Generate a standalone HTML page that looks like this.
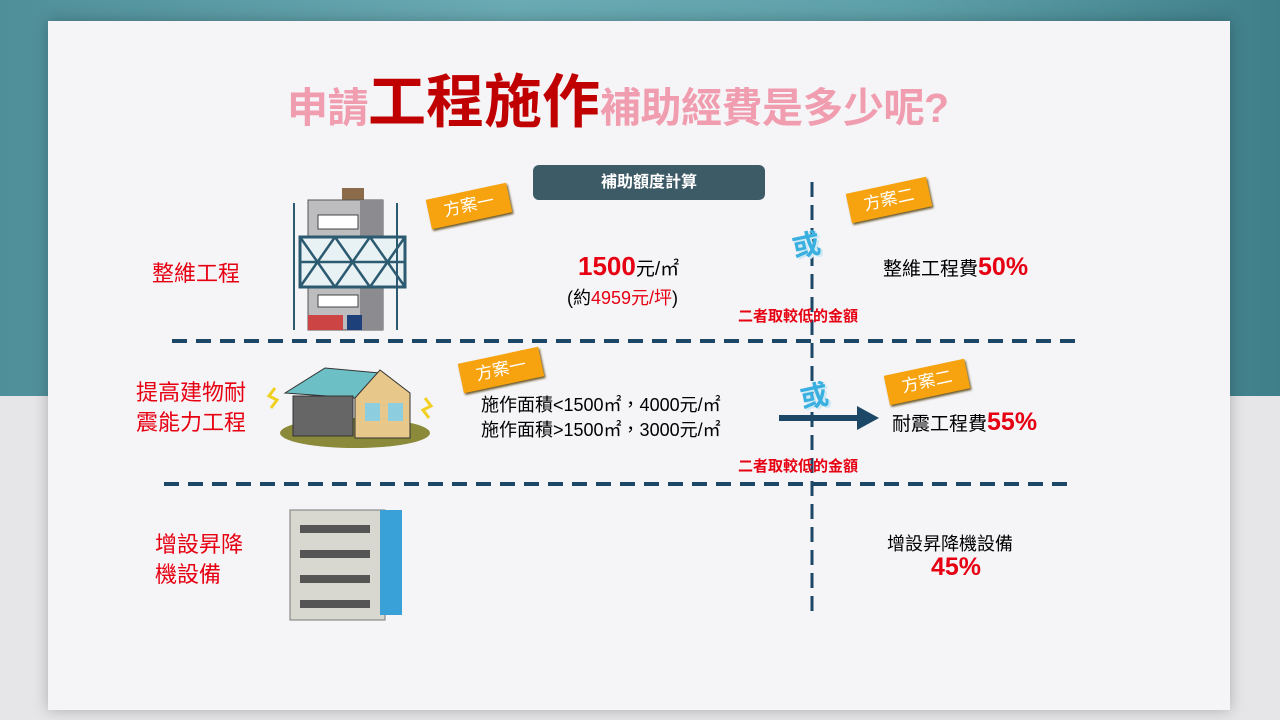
<!DOCTYPE html>
<html><head><meta charset="utf-8"><style>
body{margin:0;width:1280px;height:720px;overflow:hidden;position:relative;font-family:"Liberation Sans","Noto Sans CJK TC",sans-serif;background:#e6e6e8}
.top{position:absolute;left:0;top:0;width:1280px;height:396px;background:linear-gradient(90deg,#4f8f99,#6aaab3 40%,#5ea0a9 70%,#3f7f89)}
.card{position:absolute;left:48px;top:21px;width:1182px;height:689px;background:#f5f4f7;box-shadow:0 0 14px rgba(0,0,0,.25)}
.a{position:absolute;white-space:nowrap}
.tag{position:absolute;background:#f7a30f;color:#fff;font-size:17px;width:82px;height:30px;line-height:30px;text-align:center;transform:rotate(-12deg);box-shadow:1px 2px 2px #6b5a2a}
.red{color:#e60012}
.or{position:absolute;color:#3ab0e0;font-size:28px;font-weight:bold;transform:rotate(-12deg);text-shadow:2px 2px 0 #cfe9f5}
</style></head><body>
<div class="top"></div>
<div class="card"></div>
<div class="a" style="left:287px;top:55px;font-size:41px;font-weight:bold;color:#f19db0;letter-spacing:-0.5px">申請<span style="color:#c00000;font-size:58px;letter-spacing:0">工程施作</span>補助經費是多少呢?</div>
<div class="a" style="left:533px;top:165px;width:232px;height:35px;background:#3d5a67;border-radius:6px;color:#fff;font-size:16px;font-weight:bold;text-align:center;line-height:35px">補助額度計算</div>
<svg style="position:absolute;left:0;top:0" width="1280" height="720">
<line x1="172" y1="341" x2="1084" y2="341" stroke="#1c4766" stroke-width="4" stroke-dasharray="15 9"/>
<line x1="164" y1="484" x2="1076" y2="484" stroke="#1c4766" stroke-width="4" stroke-dasharray="15 9"/>
<line x1="812" y1="182" x2="812" y2="612" stroke="#1c4766" stroke-width="3" stroke-dasharray="15 8"/>
</svg>
<div class="tag" style="left:428px;top:191px">方案一</div>
<div class="tag" style="left:848px;top:185px">方案二</div>
<div class="tag" style="left:460px;top:355px">方案一</div>
<div class="tag" style="left:886px;top:367px">方案二</div>
<div class="or" style="left:792px;top:224px">或</div>
<div class="or" style="left:800px;top:375px">或</div>
<div class="a red" style="left:152px;top:256px;font-size:22px">整維工程</div>
<div class="a red" style="left:136px;top:378px;font-size:22px;line-height:30px">提高建物耐<br>震能力工程</div>
<div class="a red" style="left:155px;top:530px;font-size:22px;line-height:30px">增設昇降<br>機設備</div>
<div class="a" style="left:578px;top:251px;font-size:26px"><span class="red" style="font-weight:600">1500</span><span style="font-size:19px">元/㎡</span></div>
<div class="a" style="left:567px;top:284px;font-size:18px">(約<span class="red">4959元/坪</span>)</div>
<div class="a red" style="left:738px;top:305px;font-size:15px;font-weight:bold">二者取較低的金額</div>
<div class="a red" style="left:738px;top:455px;font-size:15px;font-weight:bold">二者取較低的金額</div>
<div class="a" style="left:883px;top:253px;font-size:19px">整維工程費<b class="red" style="font-size:25px">50%</b></div>
<div class="a" style="left:481px;top:393px;font-size:18px;line-height:25px">施作面積&lt;1500㎡，4000元/㎡<br>施作面積&gt;1500㎡，3000元/㎡</div>
<div style="position:absolute;left:779px;top:415px;width:80px;height:6px;background:#1c4766"></div>
<div style="position:absolute;left:857px;top:406px;border-left:22px solid #1c4766;border-top:12px solid transparent;border-bottom:12px solid transparent"></div>
<div class="a" style="left:892px;top:408px;font-size:19px">耐震工程費<b class="red" style="font-size:25px">55%</b></div>
<div class="a" style="left:887px;top:530px;font-size:18px">增設昇降機設備</div>
<div class="a red" style="left:931px;top:553px;font-size:25px;font-weight:bold">45%</div>
<svg style="position:absolute;left:280px;top:185px" width="130" height="150">
<rect x="62" y="3" width="22" height="14" fill="#8b6b4a"/>
<rect x="28" y="15" width="75" height="130" fill="#bdbdc0" stroke="#555"/>
<rect x="80" y="15" width="23" height="130" fill="#8c8c90"/>
<rect x="38" y="30" width="40" height="14" fill="#fff" stroke="#444"/>
<rect x="20" y="52" width="105" height="50" fill="#e8f1f4" stroke="#2c5a70" stroke-width="3"/>
<path d="M20 52L55 102M55 52L20 102M55 52L90 102M90 52L55 102M90 52L125 102M125 52L90 102M20 77H125" stroke="#2c5a70" stroke-width="2.5"/>
<rect x="38" y="110" width="40" height="12" fill="#fff" stroke="#444"/>
<rect x="28" y="130" width="35" height="15" fill="#c44"/>
<rect x="67" y="130" width="15" height="15" fill="#1d3f7a"/>
<path d="M14 18V145M117 18V145" stroke="#2c5a70" stroke-width="2"/>
</svg>
<svg style="position:absolute;left:265px;top:358px" width="175" height="95">
<ellipse cx="90" cy="75" rx="75" ry="15" fill="#8a8a3a"/>
<path d="M20 35L60 10L115 15L90 40Z" fill="#6cc0c5" stroke="#333"/>
<rect x="28" y="38" width="60" height="40" fill="#666" stroke="#333"/>
<path d="M90 40L115 12L145 35V80H90Z" fill="#e8c88a" stroke="#333"/>
<rect x="100" y="45" width="15" height="18" fill="#8ccde0"/>
<rect x="123" y="45" width="15" height="18" fill="#8ccde0"/>
<path d="M10 30l-6 8 8 4-6 8M160 40l6 8-8 4 6 8" stroke="#f0d020" stroke-width="3" fill="none"/>
</svg>
<svg style="position:absolute;left:285px;top:495px" width="135" height="128">
<rect x="5" y="15" width="95" height="110" fill="#d8d8d0" stroke="#777"/>
<rect x="95" y="15" width="22" height="105" fill="#3aa0d8"/>
<g fill="#555"><rect x="15" y="30" width="70" height="8"/><rect x="15" y="55" width="70" height="8"/><rect x="15" y="80" width="70" height="8"/><rect x="15" y="105" width="70" height="8"/></g>
</svg>
</body></html>
